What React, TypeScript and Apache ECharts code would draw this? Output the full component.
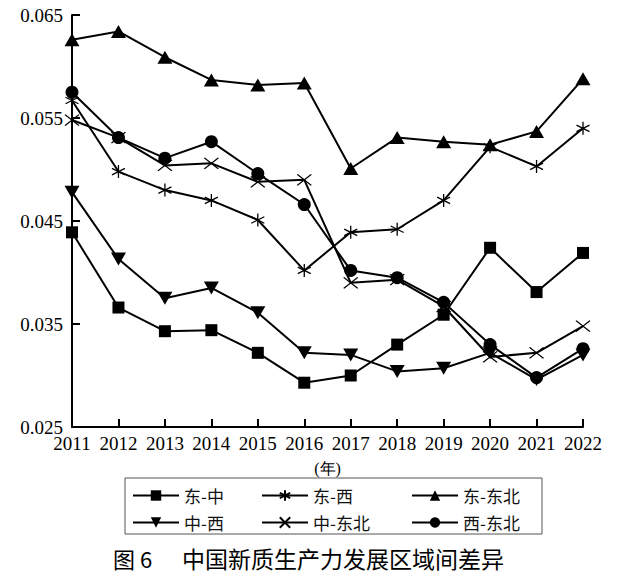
import React, { useEffect, useRef } from "react";
import * as echarts from "echarts";

const years = ["2011", "2012", "2013", "2014", "2015", "2016", "2017", "2018", "2019", "2020", "2021", "2022"];
const yTicks = [0.025, 0.035, 0.045, 0.055, 0.065];

const dongZhong = [0.0439, 0.0366, 0.0343, 0.0344, 0.0322, 0.0293, 0.03, 0.033, 0.0359, 0.0424, 0.0381, 0.0419];
const dongXi = [0.0567, 0.0498, 0.048, 0.047, 0.0451, 0.0402, 0.0439, 0.0442, 0.047, 0.0522, 0.0503, 0.054];
const dongDongbei = [0.0626, 0.0634, 0.0609, 0.0587, 0.0582, 0.0584, 0.0501, 0.0531, 0.0527, 0.0524, 0.0537, 0.0588];
const zhongXi = [0.0478, 0.0413, 0.0375, 0.0385, 0.0361, 0.0322, 0.032, 0.0304, 0.0307, 0.0322, 0.0296, 0.032];
const zhongDongbei = [0.0548, 0.0531, 0.0504, 0.0506, 0.0488, 0.049, 0.039, 0.0393, 0.0367, 0.0318, 0.0322, 0.0348];
const xiDongbei = [0.0575, 0.0531, 0.0511, 0.0527, 0.0496, 0.0466, 0.0402, 0.0395, 0.0371, 0.033, 0.0298, 0.0326];

const ASTERISK = "path://M0,-1L0,1M-0.87,-0.5L0.87,0.5M-0.87,0.5L0.87,-0.5";
const CROSS = "path://M-1,-1L1,1M-1,1L1,-1";

export default function App() {
  const ref = useRef<HTMLDivElement>(null);
  useEffect(() => {
    if (!ref.current) return;
    document.body.style.margin = "0";
    const chart = echarts.init(ref.current, null, { renderer: "svg" });
    const serif = "Liberation Serif";
    const cjk = "Noto Sans CJK SC";
    const base = (name: string, data: number[], symbol: string, size: any, extra: any = {}) => ({
      name,
      type: "line",
      data,
      symbol,
      symbolSize: size,
      showAllSymbol: true,
      lineStyle: { color: "#000", width: 2 },
      itemStyle: { color: "#000" },
      ...extra,
    });
    const strokeItem = { color: "rgba(0,0,0,0)", borderColor: "#000", borderWidth: 1.3 };
    const legendCommon = {
      orient: "vertical",
      itemWidth: 46,
      itemHeight: 13,
      itemGap: 10,
      textStyle: { fontFamily: cjk, fontSize: 17, color: "#111" },
    };
    chart.setOption({
      animation: false,
      backgroundColor: "#fff",
      grid: { left: 72, right: 56, top: 15, bottom: 149, containLabel: false },
      xAxis: {
        type: "category",
        data: years,
        boundaryGap: false,
        name: "(年)",
        nameLocation: "middle",
        nameGap: 33,
        nameTextStyle: { fontFamily: serif, fontSize: 16, color: "#000" },
        axisLine: { lineStyle: { color: "#000", width: 2 } },
        axisTick: { inside: true, length: 8, lineStyle: { color: "#000", width: 2 }, alignWithLabel: true },
        axisLabel: { fontFamily: serif, fontSize: 19, color: "#000", margin: 7, interval: 0 },
        splitLine: { show: false },
      },
      yAxis: {
        type: "value",
        min: yTicks[0],
        max: yTicks[yTicks.length - 1],
        interval: 0.01,
        axisLine: { show: true, lineStyle: { color: "#000", width: 2 } },
        axisTick: { show: true, inside: true, length: 8, lineStyle: { color: "#000", width: 2 } },
        axisLabel: {
          fontFamily: serif,
          fontSize: 19,
          color: "#000",
          margin: 9,
          formatter: (v: number) => v.toFixed(3),
        },
        splitLine: { show: false },
      },
      legend: [
        { ...legendCommon, left: 127, top: 482, data: ["东-中", "中-西"] },
        { ...legendCommon, left: 256, top: 482, data: ["东-西", "中-东北"] },
        { ...legendCommon, left: 406, top: 482, data: ["东-东北", "西-东北"] },
      ],
      graphic: [
        {
          type: "rect",
          shape: { x: 125, y: 478, width: 417, height: 56 },
          style: { fill: "none", stroke: "#555", lineWidth: 1 },
        },
        {
          type: "text",
          x: 113,
          y: 558,
          style: { text: "图 6", fontFamily: cjk, fontSize: 22, fill: "#000", verticalAlign: "middle" },
        },
        {
          type: "text",
          x: 182,
          y: 558,
          style: { text: "中国新质生产力发展区域间差异", fontFamily: cjk, fontSize: 23, fill: "#000", verticalAlign: "middle" },
        },
      ],
      series: [
        base("东-中", dongZhong, "rect", 12),
        base("东-西", dongXi, ASTERISK, [13, 13], { itemStyle: strokeItem }),
        base("东-东北", dongDongbei, "triangle", [15, 13]),
        base("中-西", zhongXi, "triangle", [15, 13], { symbolRotate: 180 }),
        base("中-东北", zhongDongbei, CROSS, [14, 11], { itemStyle: strokeItem }),
        base("西-东北", xiDongbei, "circle", 13),
      ],
    });
    return () => chart.dispose();
  }, []);
  return <div ref={ref} style={{ width: 639, height: 576 }} />;
}
